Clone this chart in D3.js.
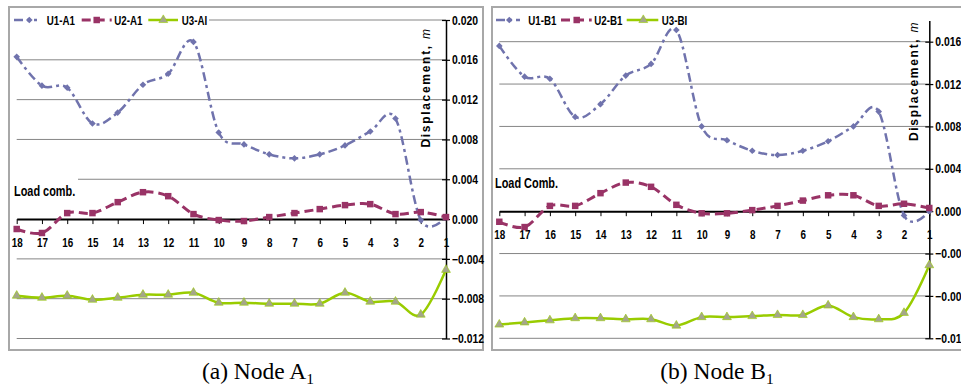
<!DOCTYPE html>
<html><head><meta charset="utf-8">
<script src="https://cdn.jsdelivr.net/npm/d3@7/dist/d3.min.js"></script>
<style>
body{margin:0;background:#fff;}
svg{display:block;}
.lbl{font-family:"Liberation Sans",Arial,sans-serif;font-weight:bold;fill:#000;}
.ttl{font-family:"Liberation Sans",Arial,sans-serif;font-weight:bold;fill:#000;}
.cap{font-family:"Liberation Serif","Times New Roman",serif;fill:#000;}
</style></head><body>
<svg id="chart" width="961" height="387"></svg>
<script>
// ---------- data ----------
const categories = ["18","17","16","15","14","13","12","11","10","9","8","7","6","5","4","3","2","1"];
const seriesNamesA = ["U1-A1","U2-A1","U3-AI"];
const seriesNamesB = ["U1-B1","U2-B1","U3-BI"];
const u1A = [0.0163,0.0134,0.0132,0.0096,0.0107,0.0135,0.0146,0.0178,0.0087,0.0075,0.0065,0.0061,0.0065,0.0074,0.0088,0.0101,-0.0001,0.0002];
const u2A = [-0.0010,-0.0014,0.0006,0.0006,0.0017,0.0027,0.0023,0.0005,-0.0001,-0.0002,0.0002,0.0006,0.0010,0.0014,0.0015,0.0005,0.0007,0.0002];
const u3A = [-0.0077,-0.0079,-0.0077,-0.0081,-0.0079,-0.0076,-0.0076,-0.0074,-0.0084,-0.0084,-0.0085,-0.0085,-0.0085,-0.0074,-0.0083,-0.0083,-0.0096,-0.0051];
const u1B = [0.0156,0.0127,0.0125,0.0089,0.0101,0.0128,0.0139,0.0171,0.0080,0.0067,0.0057,0.0053,0.0057,0.0066,0.0080,0.0094,-0.0004,0.0000];
const u2B = [-0.0010,-0.0015,0.0005,0.0005,0.0017,0.0027,0.0023,0.0006,-0.0002,-0.0002,0.0001,0.0005,0.0010,0.0015,0.0015,0.0005,0.0007,0.0003];
const u3B = [-0.0107,-0.0105,-0.0103,-0.0101,-0.0101,-0.0102,-0.0102,-0.0108,-0.0100,-0.0100,-0.0099,-0.0098,-0.0098,-0.0089,-0.0100,-0.0102,-0.0096,-0.0051];
const yTicksA = [0.020,0.016,0.012,0.008,0.004,0.000,-0.004,-0.008,-0.012];
const yTicksB = [0.016,0.012,0.008,0.004,0.000,-0.004,-0.008,-0.012];
const yDomainA = [-0.012, 0.020];
const yDomainB = [-0.012, 0.018];
const axisTitle = ["Displacement, ", "m"];
const noteA = "Load comb.";
const noteB = "Load Comb.";
const captionA = ["(a) Node A", "1"];
const captionB = ["(b) Node B", "1"];

// ---------- styles ----------
const seriesStyle = [
  {color:"#7073ad", width:2.5, dash:"9,4,3,4", marker:"diamond"},
  {color:"#993366", width:3,   dash:"9,5",     marker:"square"},
  {color:"#99cc00", width:2.5, dash:null,      marker:"triangle"}
];
const SQ = 0.78; // horizontal condensing of the chart lettering

const svg = d3.select("#chart");

function squash(sel, k){
  sel.each(function(){
    const t = d3.select(this);
    const x = +t.attr("x") || 0, y = +t.attr("y") || 0;
    t.attr("x",0).attr("y",0).attr("transform",`translate(${x},${y}) scale(${k},1)`);
  });
}
function markerPath(type){
  if(type==="diamond") return d3.symbol(d3.symbolSquare, 22)();
  if(type==="square") return d3.symbol(d3.symbolSquare, 42)();
  return d3.symbol(d3.symbolTriangle, 34)();
}
function drawMarker(g, type, x, y, color){
  const m = g.append("path").attr("d", markerPath(type))
    .attr("transform", `translate(${x},${y})` + (type==="diamond" ? " rotate(45)" : ""));
  if(type==="triangle") m.attr("fill","#a4a68a").attr("stroke","#99cc00").attr("stroke-width",0.6);
  else m.attr("fill", color);
}

function drawPanel(cfg){
  const g = svg.append("g");
  g.append("rect").attr("x",cfg.frame[0]).attr("y",cfg.frame[1])
    .attr("width",cfg.frame[2]).attr("height",cfg.frame[3])
    .attr("fill","#fff").attr("stroke","#a8a8a8").attr("stroke-width",2);

  const x = d3.scalePoint().domain(categories).range(cfg.xRange);
  const y = d3.scaleLinear().domain(cfg.yDomain).range(cfg.yRange);

  g.append("g").selectAll("line").data(cfg.yTicks.filter(d=>d!==0)).join("line")
    .attr("x1",cfg.xRange[0]).attr("x2",cfg.xRange[1])
    .attr("y1",d=>y(d)).attr("y2",d=>y(d))
    .attr("stroke","#858585").attr("stroke-width",1);

  cfg.boxes.forEach(b=>{
    g.append("rect").attr("x",b[0]).attr("y",b[1]).attr("width",b[2]).attr("height",b[3]).attr("fill","#fff");
  });

  // x axis at zero
  const xAxis = d3.axisBottom(x).tickSize(5).tickSizeOuter(0).tickPadding(14);
  const xa = g.append("g").attr("transform",`translate(0,${y(0)})`).call(xAxis);
  xa.select(".domain").attr("stroke","#000").attr("stroke-width",2);
  xa.selectAll(".tick line").attr("stroke","#000").attr("stroke-width",1);
  xa.selectAll(".tick text").attr("class","lbl").attr("font-size",13).call(squash, 0.76);

  // y axis right
  const yAxis = d3.axisRight(y).tickValues(cfg.yTicks).tickFormat(d3.format(".3f"))
    .tickSize(4).tickSizeOuter(0).tickPadding(2);
  const ya = g.append("g").attr("transform",`translate(${cfg.xRange[1]},0)`).call(yAxis);
  ya.select(".domain").attr("stroke","#000").attr("stroke-width",1.5);
  ya.selectAll(".tick line").attr("x1",-4).attr("stroke","#000").attr("stroke-width",1.2);
  ya.selectAll(".tick text").attr("class","lbl").attr("font-size",13).call(squash, 0.8);

  // axis title
  const t = g.append("text").attr("class","ttl").attr("font-size",12)
    .attr("letter-spacing","1.7px").attr("text-anchor","middle")
    .attr("transform",`translate(${cfg.titlePos[0]},${cfg.titlePos[1]}) rotate(-90)`);
  t.append("tspan").text(axisTitle[0]);
  t.append("tspan").attr("font-style","italic").attr("font-weight","normal").text(axisTitle[1]);

  // note
  g.append("text").attr("class","lbl").attr("font-size",14)
    .attr("x",cfg.notePos[0]).attr("y",cfg.notePos[1]).text(cfg.note).call(squash, SQ);

  // series
  const line = d3.line().x((d,i)=>x(categories[i])).y(d=>y(d)).curve(d3.curveCardinal.tension(0));
  cfg.series.forEach((vals,si)=>{
    const st = seriesStyle[si];
    g.append("path").attr("d",line(vals)).attr("fill","none")
      .attr("stroke",st.color).attr("stroke-width",st.width)
      .attr("stroke-dasharray",st.dash).attr("stroke-linecap","butt");
    const mg = g.append("g");
    vals.forEach((v,i)=>drawMarker(mg, st.marker, x(categories[i]), y(v), st.color));
  });

  // legend
  const lg = g.append("g");
  cfg.legend.forEach((it,si)=>{
    const st = seriesStyle[si];
    lg.append("line").attr("x1",it[0]).attr("x2",it[1]).attr("y1",cfg.legendY).attr("y2",cfg.legendY)
      .attr("stroke",st.color).attr("stroke-width",st.width).attr("stroke-dasharray",st.dash);
    drawMarker(lg, st.marker, it[2], cfg.legendY, st.color);
    lg.append("text").attr("class","lbl").attr("font-size",12.5)
      .attr("x",it[3]).attr("y",cfg.legendY+4.5).text(cfg.names[si]).call(squash, SQ);
  });

  // caption
  const c = svg.append("text").attr("class","cap").attr("font-size",23.5)
    .attr("x",cfg.capPos[0]).attr("y",cfg.capPos[1]).attr("text-anchor","middle");
  c.append("tspan").text(cfg.caption[0]);
  c.append("tspan").attr("font-size",15.5).attr("dy",5).text(cfg.caption[1]);
}

drawPanel({
  frame:[9,7,474,343],
  xRange:[16.7,446], yDomain:yDomainA, yRange:[338.5,20], yTicks:yTicksA,
  boxes:[[12,10,197,20],[12,177,66,22]],
  titlePos:[430,87.5], note:noteA, notePos:[14,195.5],
  series:[u1A,u2A,u3A], names:seriesNamesA,
  legendY:20, legend:[[14,37,29.3,46.7],[81.7,111.7,96.7,114.3],[148.3,178,163.3,181.7]],
  caption:captionA, capPos:[258,379]
});
drawPanel({
  frame:[492,7,490,343],
  xRange:[499.3,929.3], yDomain:yDomainB, yRange:[338.3,20.5], yTicks:yTicksB,
  boxes:[],
  titlePos:[918,81], note:noteB, notePos:[495,188],
  series:[u1B,u2B,u3B], names:seriesNamesB,
  legendY:20, legend:[[496,520,509.3,528.3],[561,591.7,576.7,594.3],[626.7,658.3,643.3,661.7]],
  caption:captionB, capPos:[717,379]
});
</script>
</body></html>
